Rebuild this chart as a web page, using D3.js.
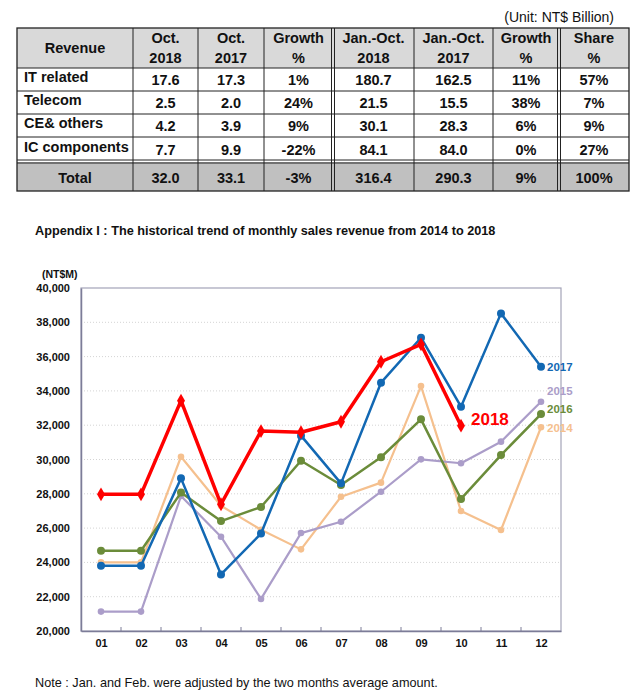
<!DOCTYPE html>
<meta charset="utf-8">
<style>
  body { margin: 0; background: #fff; }
  svg { display: block; font-family: "Liberation Sans", Arial, sans-serif; }
  .cell text { font-weight: bold; font-size: 14.5px; fill: #111; }
  .grid line { stroke: #d4d4d4; stroke-dasharray: 1,2; }
  .yax text, .xax text { font-weight: bold; font-size: 11px; fill: #111; }
</style>
<html>
<body>
<script src="https://cdn.jsdelivr.net/npm/d3@7"></script>
<script>
// ---- table data ----
var tableHead = [["Revenue"], ["Oct.", "2018"], ["Oct.", "2017"], ["Growth", "%"],
                 ["Jan.-Oct.", "2018"], ["Jan.-Oct.", "2017"], ["Growth", "%"], ["Share", "%"]];
var rowNames = ["IT related", "Telecom", "CE& others", "IC components", "Total"];
var oct2018 = ["17.6", "2.5", "4.2", "7.7", "32.0"];
var oct2017 = ["17.3", "2.0", "3.9", "9.9", "33.1"];
var octGrowth = ["1%", "24%", "9%", "-22%", "-3%"];
var ytd2018 = ["180.7", "21.5", "30.1", "84.1", "316.4"];
var ytd2017 = ["162.5", "15.5", "28.3", "84.0", "290.3"];
var ytdGrowth = ["11%", "38%", "6%", "0%", "9%"];
var share = ["57%", "7%", "9%", "27%", "100%"];

// ---- chart data (NT$M) ----
var months = ["01", "02", "03", "04", "05", "06", "07", "08", "09", "10", "11", "12"];
var s2014 = [24000, 24000, 30160, 27300, 25900, 24760, 27830, 28650, 34280, 27000, 25890, 31880];
var s2015 = [21130, 21130, 27870, 25500, 21870, 25710, 26370, 28120, 30010, 29780, 31040, 33370];
var s2016 = [24680, 24680, 28070, 26410, 27230, 29930, 28510, 30130, 32340, 27700, 30260, 32650];
var s2017 = [23810, 23810, 28900, 23300, 25680, 31390, 28610, 34480, 37100, 33080, 38520, 35410];
var s2018 = [27970, 27970, 33430, 27390, 31660, 31590, 32200, 35700, 36715, 31970];
var yTicks = [20000, 22000, 24000, 26000, 28000, 30000, 32000, 34000, 36000, 38000, 40000];

var svg = d3.select("body").append("svg").attr("width", 636).attr("height", 699);

// ================= table =================
var colX = [17, 133, 198, 264, 333, 414, 493, 559, 629];
var rowY = [28, 68, 91, 114, 137, 162, 191];
var cols = [rowNames, oct2018, oct2017, octGrowth, ytd2018, ytd2017, ytdGrowth, share];

svg.append("text").attr("x", 614).attr("y", 22).attr("text-anchor", "end")
  .style("font-size", "14px").style("fill", "#111").text("(Unit:  NT$  Billion)");

var tbl = svg.append("g").attr("class", "cell");
tbl.append("rect").attr("x", colX[0]).attr("y", rowY[0]).attr("width", colX[8] - colX[0])
  .attr("height", rowY[1] - rowY[0]).attr("fill", "#d9d9d9");
tbl.append("rect").attr("x", colX[0]).attr("y", rowY[5]).attr("width", colX[8] - colX[0])
  .attr("height", rowY[6] - rowY[5]).attr("fill", "#c0c0c0");

tableHead.forEach(function(h, i) {
  var cx = (colX[i] + colX[i + 1]) / 2;
  if (h.length === 1) {
    tbl.append("text").attr("x", cx).attr("y", 53).attr("text-anchor", "middle").text(h[0]);
  } else {
    tbl.append("text").attr("x", cx).attr("y", 43).attr("text-anchor", "middle").text(h[0]);
    tbl.append("text").attr("x", cx).attr("y", 63).attr("text-anchor", "middle").text(h[1]);
  }
});

cols.forEach(function(col, i) {
  col.forEach(function(v, r) {
    var y0 = rowY[r + 1], y1 = r === 4 ? rowY[6] : rowY[r + 2];
    if (r === 4) y0 = rowY[5];
    var isName = i === 0 && r < 4;
    tbl.append("text")
      .attr("x", isName ? colX[0] + 7 : (colX[i] + colX[i + 1]) / 2)
      .attr("y", (y0 + y1) / 2 + (r === 4 ? 6 : 5) - (isName ? 3 : 0))
      .attr("text-anchor", isName ? "start" : "middle")
      .text(v);
  });
});

// borders
var bcol = "#222";
tbl.append("rect").attr("x", colX[0]).attr("y", rowY[0]).attr("width", colX[8] - colX[0])
  .attr("height", rowY[6] - rowY[0]).attr("fill", "none").attr("stroke", bcol).attr("stroke-width", 1.3);
colX.slice(1, 8).forEach(function(x, i) {
  var dbl = (i === 3 || i === 6);
  [0].concat(dbl ? [3] : []).forEach(function(off) {
    tbl.append("line").attr("x1", x + off - (dbl ? 1.5 : 0)).attr("x2", x + off - (dbl ? 1.5 : 0))
      .attr("y1", rowY[0]).attr("y2", rowY[6]).attr("stroke", bcol).attr("stroke-width", 1);
  });
});
[rowY[1], rowY[2], rowY[3], rowY[4]].forEach(function(y) {
  tbl.append("line").attr("x1", colX[0]).attr("x2", colX[8]).attr("y1", y).attr("y2", y)
    .attr("stroke", bcol).attr("stroke-width", 1);
});
[rowY[5] - 2, rowY[5] + 1].forEach(function(y) {
  tbl.append("line").attr("x1", colX[0]).attr("x2", colX[8]).attr("y1", y).attr("y2", y)
    .attr("stroke", bcol).attr("stroke-width", 1);
});

// ================= chart =================
svg.append("text").attr("x", 35).attr("y", 235)
  .style("font-family", "'Liberation Sans Narrow', 'Liberation Sans', Arial")
  .style("font-weight", "bold").style("font-size", "12.7px").style("fill", "#111")
  .text("Appendix I : The historical trend of monthly sales revenue from 2014 to 2018");

var L = 81, R = 561, T = 288, B = 631;
var x = d3.scalePoint().domain(months).range([L, R]).padding(0.5);
var y = d3.scaleLinear().domain([20000, 40000]).range([B, T]);

svg.append("g").attr("class", "grid").selectAll("line")
  .data(yTicks.slice(1, -1)).enter().append("line")
  .attr("x1", L).attr("x2", R).attr("y1", y).attr("y2", y);

// frame
svg.append("rect").attr("x", L).attr("y", T).attr("width", R - L).attr("height", B - T)
  .attr("fill", "none").attr("stroke", "#a3a3b8").attr("stroke-width", 1.2);

var yax = svg.append("g").attr("class", "yax").attr("transform", "translate(" + L + ",0)")
  .call(d3.axisLeft(y).tickValues(yTicks).tickSize(0).tickPadding(11).tickFormat(d3.format(",")));
yax.select(".domain").attr("stroke", "#7c7c98").attr("stroke-width", 1.5);

svg.append("text").attr("x", 42).attr("y", 278).style("font-weight", "bold")
  .style("font-size", "10.5px").style("fill", "#111").text("(NT$M)");

var xax = svg.append("g").attr("class", "xax").attr("transform", "translate(0," + B + ")")
  .call(d3.axisBottom(x).tickSize(0).tickPadding(8));
xax.select(".domain").attr("stroke", "#7c7c98").attr("stroke-width", 1.5);
// small ticks between months
svg.append("g").selectAll("line").data(months.slice(1)).enter().append("line")
  .attr("x1", function(d) { return x(d) - x.step() / 2; })
  .attr("x2", function(d) { return x(d) - x.step() / 2; })
  .attr("y1", B).attr("y2", B - 4).attr("stroke", "#7c7c98");

var series = [
  { name: "2014", vals: s2014, color: "#f5c08e", w: 2.2, r: 3.3, fs: 11.5, dy: 1 },
  { name: "2015", vals: s2015, color: "#ab9dc9", w: 2.2, r: 3.3, fs: 11.5, dy: -11 },
  { name: "2016", vals: s2016, color: "#6b8c3a", w: 2.5, r: 4, fs: 11.5, dy: -5 },
  { name: "2017", vals: s2017, color: "#1268b3", w: 2.5, r: 4, fs: 11.5, dy: 0 },
  { name: "2018", vals: s2018, color: "#ff0000", w: 3.5, r: 0, fs: 17, dy: -5 }
];

var line = d3.line().x(function(d, i) { return x(months[i]); }).y(function(d) { return y(d); });

series.forEach(function(s) {
  var g = svg.append("g");
  g.append("path").datum(s.vals).attr("d", line).attr("fill", "none")
    .attr("stroke", s.color).attr("stroke-width", s.w).attr("stroke-linejoin", "round");
  if (s.name === "2018") {
    g.selectAll("path.m").data(s.vals).enter().append("path").attr("class", "m")
      .attr("d", d3.symbol().type(d3.symbolDiamond).size(55))
      .attr("transform", function(d, i) { return "translate(" + x(months[i]) + "," + y(d) + ")"; })
      .attr("fill", s.color);
  } else {
    g.selectAll("circle").data(s.vals).enter().append("circle")
      .attr("cx", function(d, i) { return x(months[i]); }).attr("cy", function(d) { return y(d); })
      .attr("r", s.r).attr("fill", s.color);
  }
  var n = s.vals.length - 1;
  g.append("text")
    .attr("x", x(months[n]) + (s.name === "2018" ? 10 : 6))
    .attr("y", y(s.vals[n]) + s.dy + 4)
    .style("font-weight", "bold").style("font-size", s.fs + "px").style("fill", s.color)
    .text(s.name);
});

svg.append("text").attr("x", 35).attr("y", 687)
  .style("font-family", "'Liberation Sans Narrow', 'Liberation Sans', Arial")
  .style("font-size", "12.7px").style("fill", "#111")
  .text("Note : Jan. and Feb. were adjusted by the two months average amount.");
</script>
</body>
</html>
